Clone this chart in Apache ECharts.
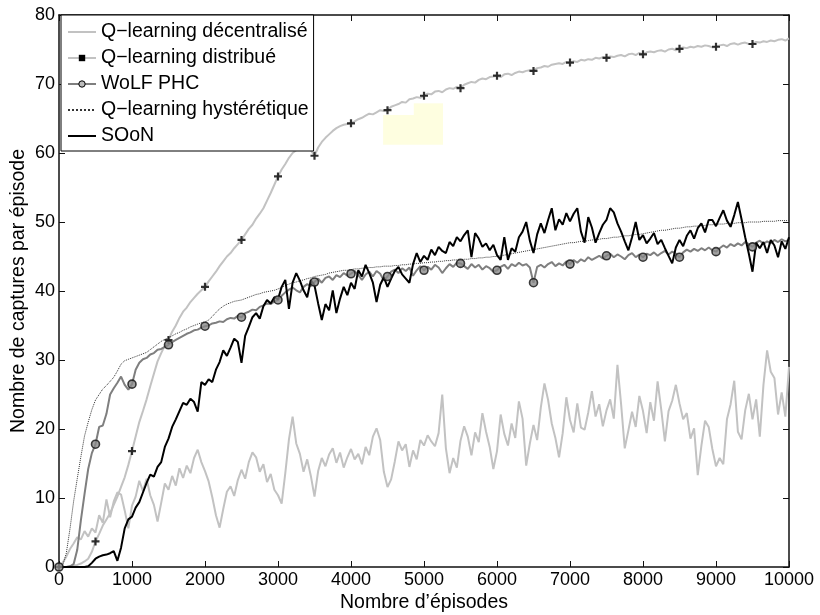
<!DOCTYPE html>
<html><head><meta charset="utf-8">
<script src="https://cdn.jsdelivr.net/npm/echarts@6/dist/echarts.min.js"></script>
<style>html,body{margin:0;padding:0;background:#fff}#c{width:820px;height:615px}</style>
</head><body><div id="c"></div>
<script>
// x sampling: one value every 50 episodes, 0..10000
const episodeStep = 50;
const episodes = Array.from({length: 201}, (_, i) => i * episodeStep);
const markerEvery = 500;

const seriesNames = ['Q\u2212learning décentralisé', 'Q\u2212learning distribué', 'WoLF PHC', 'Q\u2212learning hystérétique', 'SOoN'];

const qDecentralise = [
 0, 0.6, 1.5, 2.6, 3.4, 4.3, 4.0, 5.2, 4.4, 5.6,
 5.0, 7.5, 6.4, 9.8, 7.2, 9.5, 10.8, 10.5, 8.2, 5.6,
 8.9, 10.2, 12.5, 11.0, 12.8, 10.4, 9.0, 6.6, 9.3, 12.1,
 11.2, 13.2, 11.8, 14.3, 12.9, 14.7, 13.6, 15.8, 17.0, 15.2,
 13.9, 12.4, 10.1, 7.5, 5.7, 8.4, 10.9, 11.7, 10.3, 12.6,
 14.1, 12.8, 15.2, 16.6, 15.9, 13.8, 14.9, 12.3, 13.5, 11.2,
 10.4, 9.2, 13.6, 18.5, 21.8, 17.9, 16.4, 13.8, 15.6, 13.2,
 10.2, 13.9, 15.8, 14.6, 16.3, 17.2, 15.1, 16.6, 14.4, 15.9,
 17.1, 15.6, 16.4, 14.9, 17.4, 16.2, 18.9, 20.1, 18.4, 13.8,
 11.6, 12.7, 15.3, 18.2, 16.9, 17.8, 14.5, 16.9, 15.6, 18.4,
 17.6, 19.1, 18.2, 17.5, 19.4, 25.0, 17.2, 13.6, 15.8, 14.4,
 18.3, 20.4, 18.9, 16.2, 19.5, 18.1, 22.3, 19.6, 17.4, 14.2,
 16.8, 22.1, 19.3, 17.6, 20.8, 18.7, 24.0, 21.5, 14.7, 17.9,
 20.6, 18.4, 23.1, 26.6, 24.2, 20.8, 18.7, 15.9, 19.4, 24.6,
 21.3, 19.5, 23.7, 20.2, 19.9, 22.4, 25.5, 21.8, 23.6, 20.4,
 22.7, 24.3, 21.5, 29.3, 23.6, 17.2, 19.8, 22.5, 20.3, 24.8,
 22.6, 19.4, 23.9, 21.2, 26.9, 22.8, 18.2, 22.6, 24.1, 26.4,
 23.7, 21.4, 22.3, 18.6, 20.1, 13.3, 17.6, 21.2, 20.3, 17.1,
 14.6, 15.8, 14.9, 21.4, 23.6, 27.0, 19.6, 18.5, 22.7, 25.1,
 21.4, 24.3, 18.9, 26.4, 31.4, 28.3, 27.4, 22.1, 25.3, 21.8,
 29.0];

const qDistribue = [
 0, 0, 0, 0.1, 0.2, 0.3, 0.5, 0.8, 1.2, 2.2,
 3.7, 4.8, 6, 6.9, 7.8, 9, 10.2, 11.6, 13, 14.8,
 16.8, 18.9, 21, 22.6, 24.3, 26.2, 28, 29.8, 31, 32.1,
 32.9, 34.1, 35, 36.1, 37, 37.6, 38.4, 39, 39.6, 40.1,
 40.6, 41.4, 42.1, 42.8, 43.6, 44.3, 45, 45.5, 46.2, 46.8,
 47.4, 48.2, 49, 49.6, 50.5, 51.2, 52, 53.1, 54.2, 55.4,
 56.6, 57.6, 58.4, 59.3, 60, 60.4, 60.9, 61.2, 61, 60.4,
 59.6, 60.8, 61.6, 62.2, 62.7, 63.2, 63.6, 63.9, 64.1, 64.2,
 64.3, 64.6, 64.9, 65.1, 65.4, 65.7, 65.6, 65.9, 66.2, 66.1,
 66.2, 66.7, 66.9, 67.1, 67.4, 67.3, 67.8, 67.9, 68.1, 68.0,
 68.3, 68.6, 68.5, 68.9, 69.0, 68.8, 69.2, 69.4, 69.3, 69.6,
 69.4, 69.9, 70.1, 70.3, 70.2, 70.6, 70.8, 70.7, 71.0, 71.1,
 71.2, 71.0, 71.4, 71.5, 71.3, 71.6, 71.8, 71.7, 71.9, 72.0,
 71.9, 72.3, 72.4, 72.6, 72.5, 72.8, 72.9, 73.0, 72.9, 73.2,
 73.1, 73.3, 73.2, 73.5, 73.4, 73.6, 73.5, 73.8, 73.7, 73.9,
 73.8, 74.0, 73.9, 74.1, 74.2, 74.0, 74.3, 74.4, 74.2, 74.5,
 74.3, 74.6, 74.7, 74.6, 74.8, 74.9, 74.7, 75.0, 75.1, 74.9,
 75.1, 75.3, 75.2, 75.4, 75.3, 75.5, 75.4, 75.6, 75.5, 75.3,
 75.4, 75.6, 75.7, 75.5, 75.8, 75.9, 75.7, 75.9, 76.0, 75.8,
 75.8, 76.1, 76.0, 76.2, 76.1, 76.3, 76.2, 76.4, 76.5, 76.3,
 76.6];

const wolfPhc = [
 0, 0, 0, 0.1, 0.4, 2.5, 6.8, 10.6, 14.2, 16.5,
 17.8, 20.3, 20.5, 22.2, 25.0, 25.9, 26.7, 27.6, 26.4, 25.7,
 26.5, 28.6, 29.6, 30.1, 30.3, 30.8, 31.0, 31.5, 31.6, 31.9,
 32.2, 32.6, 32.9, 33.2, 33.5, 33.8, 34.0, 34.3, 34.4, 34.7,
 34.9, 35.0, 35.3, 35.4, 35.6, 35.5, 35.9, 36.1, 36.0, 36.4,
 36.2, 36.8, 37.0, 37.3, 37.2, 37.7, 37.9, 38.2, 38.1, 38.5,
 38.7, 39.3, 39.8, 40.2, 40.5, 40.1, 39.8, 40.6, 41.0, 40.7,
 41.3, 41.8, 41.2, 41.9, 42.1, 41.6, 42.3, 42.0, 42.6, 42.2,
 42.5, 42.9, 42.3, 41.6, 42.4, 42.8, 42.1, 42.9, 42.5, 41.5,
 42.1, 42.8, 43.1, 42.6, 43.3, 42.9, 43.4, 42.2, 43.0, 43.6,
 43.0, 43.5, 43.1, 43.8, 43.4, 42.6, 43.3, 43.9, 43.5, 44.1,
 44.0, 43.6, 43.2, 43.9, 43.4, 43.8, 43.1, 43.6, 43.3, 42.8,
 43.0, 43.5, 43.8, 43.2, 43.9, 43.6, 44.1, 43.7, 43.9, 43.4,
 41.2, 43.5, 43.8, 43.4, 43.9, 44.2, 43.6, 44.0, 43.7, 44.3,
 43.9, 44.5, 44.1, 44.6, 44.3, 44.9, 44.5, 44.8, 45.1, 44.7,
 45.1, 45.4, 44.9, 45.3, 45.0, 44.6, 45.2, 45.5, 44.9, 45.3,
 44.9, 45.4, 45.2, 45.6, 45.1, 45.5, 45.8, 45.3, 45.7, 45.4,
 44.9, 45.6, 46.0, 45.7, 46.1, 45.8, 46.2, 45.9, 46.3, 45.9,
 45.7, 46.2, 46.6, 46.3, 46.8, 46.5, 46.9, 46.6, 47.1, 46.8,
 46.4, 47.0, 47.3, 46.8, 47.2, 46.9, 47.4, 47.1, 47.5, 47.2,
 47.4];

const qHysteretique = [
 0, 0.2, 2.0, 5.5, 9.5, 12.8, 16.0, 19.0, 21.0, 22.8,
 24.2, 25.0, 25.8, 26.3, 26.9, 27.5, 28.4, 29.4, 29.9, 30.1,
 30.3, 30.5, 30.7, 30.9, 31.1, 31.5, 31.9, 32.3, 32.7, 33.0,
 33.2, 33.5, 33.8, 34.0, 34.3, 34.5, 34.8, 35.0, 35.2, 35.4,
 35.5, 35.8, 36.3, 36.9, 37.4, 37.8, 38.1, 38.3, 38.5, 38.6,
 38.7, 38.9, 39.1, 39.3, 39.5, 39.6, 39.8, 39.9, 40.0, 40.1,
 40.3, 40.5, 40.8, 41.0, 41.2, 41.3, 41.5, 41.6, 41.8, 41.9,
 42.1, 42.2, 42.3, 42.4, 42.6, 42.7, 42.8, 42.9, 43.0, 43.0,
 43.1, 43.2, 43.2, 43.3, 43.3, 43.4, 43.4, 43.5, 43.5, 43.6,
 43.6, 43.6, 43.7, 43.7, 43.8, 43.8, 43.9, 43.9, 44.0, 44.0,
 44.1, 44.1, 44.2, 44.2, 44.3, 44.3, 44.4, 44.4, 44.5, 44.5,
 44.5, 44.6, 44.6, 44.7, 44.7, 44.8, 44.8, 44.9, 44.9, 45.0,
 45.0, 45.1, 45.2, 45.3, 45.4, 45.5, 45.6, 45.7, 45.8, 45.9,
 46.0, 46.1, 46.2, 46.3, 46.4, 46.5, 46.6, 46.7, 46.8, 46.9,
 47.0, 47.0, 47.1, 47.2, 47.2, 47.3, 47.4, 47.4, 47.5, 47.6,
 47.6, 47.7, 47.8, 47.8, 47.9, 48.0, 48.0, 48.1, 48.2, 48.2,
 48.3, 48.4, 48.5, 48.6, 48.7, 48.8, 48.8, 48.9, 49.0, 49.1,
 49.1, 49.2, 49.3, 49.3, 49.4, 49.4, 49.5, 49.5, 49.6, 49.6,
 49.7, 49.7, 49.7, 49.8, 49.8, 49.8, 49.9, 49.9, 49.9, 50.0,
 50.0, 50.0, 50.0, 50.1, 50.1, 50.1, 50.1, 50.2, 50.2, 50.2,
 50.2];

const soon = [
 0, 0, 0, 0, 0, 0, 0, 0, 0.1, 0.6,
 1.2, 1.5, 1.7, 1.8, 2.0, 2.3, 0.9, 2.8, 5.6, 6.9,
 7.3, 8.6, 9.4, 10.8, 12.2, 13.4, 13.1, 14.5, 15.2, 17.4,
 18.6, 20.3, 21.4, 22.6, 23.8, 23.5, 24.4, 23.9, 22.5, 26.8,
 26.4, 27.2, 26.8, 28.6, 29.7, 31.4, 30.6, 31.8, 33.1, 32.6,
 29.6, 33.5, 34.8, 36.2, 36.8, 36.0, 37.8, 38.7, 38.2, 39.1,
 38.8, 40.6, 41.6, 37.4, 41.2, 42.6, 41.5, 40.1, 39.1, 41.6,
 40.8, 38.2, 35.8, 38.1, 37.2, 40.1, 36.8, 38.9, 40.6, 39.4,
 41.2, 40.3, 43.0, 42.1, 43.8, 42.6, 41.2, 38.4, 40.9, 42.0,
 40.6, 41.8, 42.9, 43.5, 42.4, 41.8, 41.2, 43.9, 45.5, 44.2,
 45.1, 44.5, 46.0, 45.2, 46.4, 45.8, 45.5, 47.1, 46.5, 47.8,
 47.2, 48.1, 48.8, 44.9, 48.4, 47.6, 46.4, 46.9, 45.9, 46.7,
 45.2, 44.5, 47.8, 44.5, 46.2, 45.7, 47.8, 48.6, 50.0, 47.3,
 45.5, 48.2, 49.8, 48.4, 50.3, 52.0, 48.8, 50.4, 49.6, 51.3,
 50.1, 51.2, 52.0, 48.6, 47.0, 50.7, 49.2, 47.0, 48.4, 49.6,
 50.3, 52.0, 51.4, 49.8, 48.6, 47.2, 45.9, 47.8, 50.0, 47.4,
 48.1, 46.9, 47.6, 48.4, 46.8, 47.4, 46.2, 45.1, 44.0, 46.3,
 47.4, 46.5, 48.0, 48.8, 47.6, 49.1, 49.8, 48.5, 50.3, 50.3,
 49.4, 50.6, 51.7, 50.2, 49.3, 51.0, 52.9, 50.4, 47.8, 45.4,
 42.8, 47.0, 46.2, 47.1, 45.5, 47.4, 46.6, 44.9, 47.2, 46.1,
 47.8];

// pale highlight boxes visible in the source figure (episode / captures ranges)
const highlightBoxes = [[4440, 61.2, 5260, 65.5], [4860, 65.5, 5260, 67.2]];

const xTickStep = 1000, yTickStep = 10, xMax = 10000, yMax = 80;

const FONT = '"Liberation Sans", Arial, Helvetica, sans-serif';
const pairs = arr => episodes.map((x, i) => [x, arr[i]]);
const marks = arr => pairs(arr).filter(p => p[0] % markerEvery === 0 && p[0] < xMax);
const plusPath = 'path://M-1.1,-4 L1.1,-4 L1.1,-1.1 L4,-1.1 L4,1.1 L1.1,1.1 L1.1,4 L-1.1,4 L-1.1,1.1 L-4,1.1 L-4,-1.1 L-1.1,-1.1 Z';

const chart = echarts.init(document.getElementById('c'), null, {renderer: 'canvas'});
const axisLine = {show: true, onZero: false, lineStyle: {color: '#111', width: 1.5}};
const tickIn = {show: true, inside: true, length: 6, lineStyle: {color: '#111', width: 1}};
const plain = v => String(v);
chart.setOption({
  animation: false,
  backgroundColor: '#fff',
  textStyle: {fontFamily: FONT},
  grid: {left: 59, right: 31, top: 15, bottom: 48, containLabel: false, outerBoundsMode: 'none'},
  legend: {
    orient: 'vertical', left: 61, top: 15,
    backgroundColor: '#fff', borderColor: '#000', borderWidth: 1, borderRadius: 0,
    padding: [7, 5, 5, 6], itemWidth: 28, itemHeight: 8, itemGap: 6,
    selectedMode: false,
    textStyle: {fontFamily: FONT, fontSize: 19.5, color: '#000'},
    data: [
      {name: seriesNames[0], itemStyle: {opacity: 0}},
      {name: seriesNames[1], itemStyle: {color: '#000'}},
      {name: seriesNames[2], itemStyle: {color: '#bbb', borderColor: '#000', borderWidth: 1}},
      {name: seriesNames[3], itemStyle: {opacity: 0}},
      {name: seriesNames[4], itemStyle: {opacity: 0}}
    ]
  },
  xAxis: [{
    type: 'value', min: 0, max: xMax, interval: xTickStep, position: 'bottom',
    axisLine, axisTick: tickIn, splitLine: {show: false},
    axisLabel: {fontFamily: FONT, fontSize: 18, color: '#000', margin: 4, formatter: plain},
    name: 'Nombre d\u2019épisodes', nameLocation: 'middle', nameGap: 26, nameMoveOverlap: false,
    nameTextStyle: {fontFamily: FONT, fontSize: 19.5, color: '#000'}
  }, {
    type: 'value', min: 0, max: xMax, interval: xTickStep, position: 'top',
    axisLine, axisTick: tickIn, splitLine: {show: false}, axisLabel: {show: false}
  }],
  yAxis: [{
    type: 'value', min: 0, max: yMax, interval: yTickStep, position: 'left',
    axisLine, axisTick: tickIn, splitLine: {show: false},
    axisLabel: {fontFamily: FONT, fontSize: 18, color: '#000', margin: 4, formatter: plain},
    name: 'Nombre de captures par épisode', nameLocation: 'middle', nameGap: 30, nameRotate: 90,
    nameMoveOverlap: false,
    nameTextStyle: {fontFamily: FONT, fontSize: 19.5, color: '#000'}
  }, {
    type: 'value', min: 0, max: yMax, interval: yTickStep, position: 'right',
    axisLine, axisTick: tickIn, splitLine: {show: false}, axisLabel: {show: false}
  }],
  series: [
    {name: seriesNames[0], type: 'line', data: pairs(qDecentralise), symbol: 'none', showSymbol: false,
     color: '#c2c2c2', lineStyle: {color: '#c2c2c2', width: 2}, z: 2,
     markArea: {silent: true, itemStyle: {color: '#fefee0'},
       data: highlightBoxes.map(b => [{coord: [b[0], b[1]]}, {coord: [b[2], b[3]]}])}},
    {name: seriesNames[1], type: 'line', data: pairs(qDistribue), symbol: 'rect', showSymbol: false,
     color: '#c2c2c2', lineStyle: {color: '#c2c2c2', width: 2}, z: 3},
    {name: seriesNames[2], type: 'line', data: pairs(wolfPhc), symbol: 'circle', showSymbol: false,
     color: '#7f7f7f', lineStyle: {color: '#7f7f7f', width: 2}, z: 4},
    {name: seriesNames[3], type: 'line', data: pairs(qHysteretique), symbol: 'none', showSymbol: false,
     color: '#333', lineStyle: {color: '#333', width: 1, type: 'dotted'}, z: 5},
    {name: seriesNames[4], type: 'line', data: pairs(soon), symbol: 'none', showSymbol: false,
     color: '#000', lineStyle: {color: '#000', width: 2}, z: 6},
    {name: 'markersDistribue', type: 'scatter', data: marks(qDistribue), symbol: plusPath, symbolSize: 8,
     itemStyle: {color: '#000'}, silent: true, z: 7},
    {name: 'markersWolf', type: 'scatter', data: marks(wolfPhc), symbol: 'circle', symbolSize: 8,
     itemStyle: {color: '#8a8a8a', borderColor: '#111', borderWidth: 1.6}, silent: true, z: 7}
  ]
});
</script></body></html>
